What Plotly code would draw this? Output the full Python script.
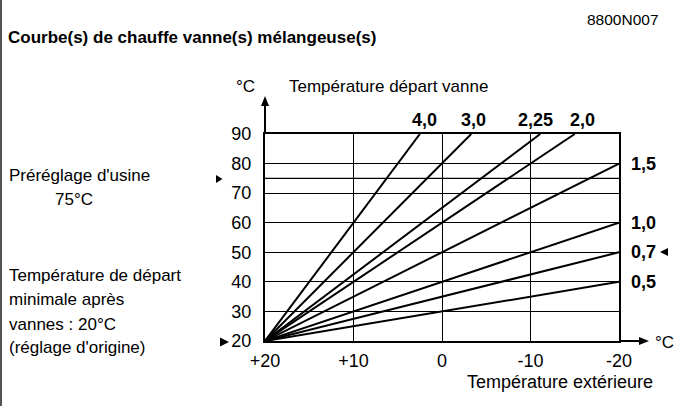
import plotly.graph_objects as go

# ---------------- data ----------------
curve_labels = ["4,0", "3,0", "2,25", "2,0", "1,5", "1,0", "0,7", "0,5"]
start_outdoor = 20
start_flow = 20
end_outdoor = [2.5, -3.3, -11.1, -15.0, -20.0, -20.0, -20.0, -20.0]
end_flow = [90, 90, 90, 90, 80, 60, 50, 40]

x_tickvals = [20, 10, 0, -10, -20]
x_ticktext = ["+20", "+10", "0", "-10", "-20"]
y_tickvals = [20, 30, 40, 50, 60, 70, 80, 90]
factory_preset = 75

# ---------------- layout geometry ----------------
WIDTH, HEIGHT = 684, 406
L, R, T, B = 265, 65, 134, 65
W = WIDTH - L - R
H = HEIGHT - T - B
FONT = "Arial, 'Liberation Sans', sans-serif"


def pxx(x):
    return (x - L) / W


def pxy(y):
    return 1 - (y - T) / H


def path(points):
    s = "M " + " L ".join(f"{pxx(a):.5f},{pxy(b):.5f}" for a, b in points) + " Z"
    return s


fig = go.Figure()

for lab, ex, ey in zip(curve_labels, end_outdoor, end_flow):
    fig.add_trace(go.Scatter(
        x=[start_outdoor, ex], y=[start_flow, ey], mode="lines",
        line=dict(color="black", width=2), name=lab, showlegend=False,
        hoverinfo="skip"))

shapes = []
# extra grid line at factory preset
shapes.append(dict(type="line", xref="x", yref="y", x0=20, x1=-20,
                   y0=factory_preset, y1=factory_preset,
                   line=dict(color="black", width=1.3), layer="below"))
# left page border
shapes.append(dict(type="line", xref="paper", yref="paper",
                   x0=pxx(1), x1=pxx(1), y0=pxy(0), y1=pxy(406),
                   line=dict(color="#555555", width=2)))
# y-axis extension with arrow
shapes.append(dict(type="line", xref="paper", yref="paper",
                   x0=pxx(265), x1=pxx(265), y0=pxy(134), y1=pxy(105),
                   line=dict(color="black", width=2)))
shapes.append(dict(type="path", xref="paper", yref="paper",
                   path=path([(261, 106), (269, 106), (265, 96)]),
                   fillcolor="black", line=dict(width=0)))
# x-axis extension with arrow
shapes.append(dict(type="line", xref="paper", yref="paper",
                   x0=pxx(619), x1=pxx(640), y0=pxy(341), y1=pxy(341),
                   line=dict(color="black", width=2)))
shapes.append(dict(type="path", xref="paper", yref="paper",
                   path=path([(639, 337), (639, 345), (649, 341)]),
                   fillcolor="black", line=dict(width=0)))
# small marker triangles
shapes.append(dict(type="path", xref="paper", yref="paper",
                   path=path([(216, 175), (216, 183), (222.5, 179)]),
                   fillcolor="black", line=dict(width=0)))
shapes.append(dict(type="path", xref="paper", yref="paper",
                   path=path([(220, 337.5), (220, 346.5), (229, 342)]),
                   fillcolor="black", line=dict(width=0)))
shapes.append(dict(type="path", xref="paper", yref="paper",
                   path=path([(668, 248), (668, 256), (660, 252)]),
                   fillcolor="black", line=dict(width=0)))

ann = []


def txt(text, x, y, size=17, xanchor="left", bold=False):
    ann.append(dict(text=f"<b>{text}</b>" if bold else text,
                    xref="paper", yref="paper", x=pxx(x), y=pxy(y),
                    xanchor=xanchor, yanchor="middle", showarrow=False,
                    font=dict(family=FONT, size=size, color="black")))


txt("Courbe(s) de chauffe vanne(s) mélangeuse(s)", 6, 38, 17, bold=True)
txt("8800N007", 661, 19, 15.5, xanchor="right")
txt("°C", 245, 86, 17, xanchor="center")
txt("Température départ vanne", 287, 86, 17)
txt("Préréglage d'usine", 7, 175, 17)
txt("75°C", 53, 199, 17)
txt("Température de départ", 7, 275, 17)
txt("minimale après", 7, 299, 17)
txt("vannes : 20°C", 7, 324, 17)
txt("(réglage d'origine)", 7, 347, 17)
txt("Température extérieure", 560, 382, 18, xanchor="center")
txt("°C", 653, 342, 17)

# curve labels anchored to the curve ends
top_shift = {"4,0": 5, "3,0": 2, "2,25": -5, "2,0": 8}
for lab, ex, ey in zip(curve_labels, end_outdoor, end_flow):
    if ey >= 90:
        ann.append(dict(text=f"<b>{lab}</b>", xref="x", yref="y", x=ex, y=ey,
                        xanchor="center", yanchor="middle", xshift=top_shift[lab],
                        yshift=14, showarrow=False,
                        font=dict(family=FONT, size=18, color="black")))
    else:
        ann.append(dict(text=f"<b>{lab}</b>", xref="x", yref="y", x=ex, y=ey,
                        xanchor="left", yanchor="middle", xshift=10,
                        showarrow=False,
                        font=dict(family=FONT, size=18, color="black")))

fig.update_layout(
    width=WIDTH, height=HEIGHT,
    margin=dict(l=L, r=R, t=T, b=B, pad=0),
    paper_bgcolor="white", plot_bgcolor="white",
    shapes=shapes, annotations=ann,
    font=dict(family=FONT, size=18, color="black"),
    xaxis=dict(range=[20, -20], tickvals=x_tickvals, ticktext=x_ticktext,
               showgrid=True, gridcolor="black", gridwidth=1.3,
               showline=True, linecolor="black", linewidth=2, mirror=True,
               zeroline=False, ticks="", ticklabelstandoff=2,
               tickfont=dict(family=FONT, size=18, color="black"),
               fixedrange=True),
    yaxis=dict(range=[20, 90], tickvals=y_tickvals,
               showgrid=True, gridcolor="black", gridwidth=1.3,
               showline=True, linecolor="black", linewidth=2, mirror=True,
               zeroline=False, ticks="", ticklabelstandoff=8,
               tickfont=dict(family=FONT, size=18, color="black"),
               fixedrange=True),
)

fig.write_html("out.html", config={"displayModeBar": False})
